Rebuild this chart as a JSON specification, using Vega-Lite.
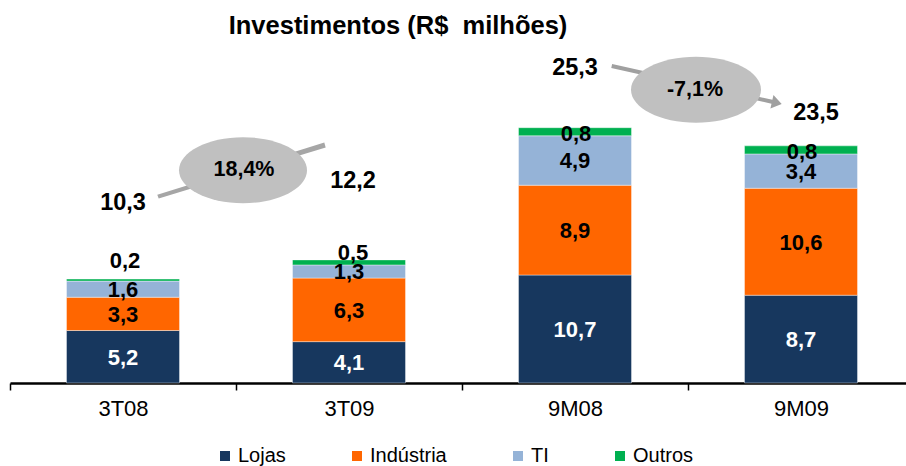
{
  "$schema": "https://vega.github.io/schema/vega-lite/v6.json",
  "width": 896,
  "height": 333,
  "autosize": {"type": "none"},
  "padding": {"left": 10, "top": 50, "right": 0, "bottom": 83},
  "background": "white",
  "title": {
    "text": "Investimentos (R$\u00a0 milhões)",
    "fontSize": 25.5,
    "fontWeight": "bold",
    "font": "Liberation Sans",
    "color": "black",
    "anchor": "middle",
    "frame": "group",
    "dx": -60,
    "offset": 11
  },
  "config": {
    "view": {"stroke": null},
    "font": "Liberation Sans",
    "locale": {"number": {"decimal": ",", "thousands": ".", "grouping": [3], "currency": ["R$ ", ""]}}
  },
  "datasets": {
    "investimentos": [
      {"periodo": "3T08", "categoria": "Lojas", "ordem": 1, "valor": 5.2},
      {"periodo": "3T08", "categoria": "Indústria", "ordem": 2, "valor": 3.3},
      {"periodo": "3T08", "categoria": "TI", "ordem": 3, "valor": 1.6},
      {"periodo": "3T08", "categoria": "Outros", "ordem": 4, "valor": 0.2},
      {"periodo": "3T09", "categoria": "Lojas", "ordem": 1, "valor": 4.1},
      {"periodo": "3T09", "categoria": "Indústria", "ordem": 2, "valor": 6.3},
      {"periodo": "3T09", "categoria": "TI", "ordem": 3, "valor": 1.3},
      {"periodo": "3T09", "categoria": "Outros", "ordem": 4, "valor": 0.5},
      {"periodo": "9M08", "categoria": "Lojas", "ordem": 1, "valor": 10.7},
      {"periodo": "9M08", "categoria": "Indústria", "ordem": 2, "valor": 8.9},
      {"periodo": "9M08", "categoria": "TI", "ordem": 3, "valor": 4.9},
      {"periodo": "9M08", "categoria": "Outros", "ordem": 4, "valor": 0.8},
      {"periodo": "9M09", "categoria": "Lojas", "ordem": 1, "valor": 8.7},
      {"periodo": "9M09", "categoria": "Indústria", "ordem": 2, "valor": 10.6},
      {"periodo": "9M09", "categoria": "TI", "ordem": 3, "valor": 3.4},
      {"periodo": "9M09", "categoria": "Outros", "ordem": 4, "valor": 0.8}
    ],
    "variacoes": [
      {"periodo": "3T09", "texto": "18,4%"},
      {"periodo": "9M09", "texto": "-7,1%"}
    ]
  },
  "data": {"name": "investimentos"},
  "encoding": {
    "x": {
      "field": "periodo",
      "type": "nominal",
      "scale": {"domain": ["3T08", "3T09", "9M08", "9M09"], "range": [0, 904], "paddingInner": 0, "paddingOuter": 0},
      "axis": {
        "title": null,
        "labelFontSize": 22,
        "labelFont": "Liberation Sans",
        "labelColor": "black",
        "labelAngle": 0,
        "labelPadding": 8,
        "tickOffset": -113,
        "labelOffset": 113,
        "tickSize": 7,
        "tickColor": "black",
        "tickWidth": 1.5,
        "domainColor": "black",
        "domainWidth": 2.5
      }
    }
  },
  "layer": [
    {
      "mark": {"type": "bar", "width": {"band": 0.5}, "stroke": "white", "strokeWidth": 0.4},
      "encoding": {
        "y": {"field": "valor", "type": "quantitative", "stack": "zero", "scale": {"domain": [0, 33], "nice": false}, "axis": null},
        "color": {
          "field": "categoria",
          "type": "nominal",
          "scale": {"domain": ["Lojas", "Indústria", "TI", "Outros"], "range": ["#17375E", "#FF6600", "#95B3D7", "#00B050"]},
          "legend": {
            "title": null,
            "orient": "none",
            "legendX": 205,
            "legendY": 396,
            "direction": "horizontal",
            "symbolType": "square",
            "symbolSize": 100,
            "symbolStrokeWidth": 0,
            "symbolOpacity": 1,
            "labelFontSize": 20,
            "labelFont": "Liberation Sans",
            "labelColor": "black",
            "columnPadding": 61,
            "labelOffset": 3,
            "padding": 0
          }
        },
        "order": {"field": "ordem", "type": "quantitative"}
      }
    },
    {
      "transform": [{"filter": "datum.categoria !== 'Outros'"}],
      "mark": {"type": "text", "fontSize": 22, "fontWeight": "bold", "baseline": "middle", "dy": 1},
      "encoding": {
        "y": {"field": "valor", "type": "quantitative", "stack": "zero", "bandPosition": 0.5, "axis": null},
        "detail": {"field": "categoria"},
        "order": {"field": "ordem", "type": "quantitative"},
        "text": {"field": "valor", "type": "quantitative", "format": ".1f"},
        "color": {"condition": {"test": "datum.categoria === 'Lojas'", "value": "white"}, "value": "black"}
      }
    },
    {
      "transform": [
        {"joinaggregate": [{"op": "sum", "field": "valor", "as": "total"}], "groupby": ["periodo"]},
        {"filter": "datum.categoria === 'Outros' && datum.periodo === '3T08'"}
      ],
      "mark": {"type": "text", "fontSize": 22, "fontWeight": "bold", "baseline": "middle", "dy": -18.5, "dx": 2, "color": "black"},
      "encoding": {
        "y": {"field": "total", "type": "quantitative", "axis": null},
        "text": {"field": "valor", "type": "quantitative", "format": ".1f"}
      }
    },
    {
      "transform": [
        {"joinaggregate": [{"op": "sum", "field": "valor", "as": "total"}], "groupby": ["periodo"]},
        {"filter": "datum.categoria === 'Outros' && datum.periodo === '3T09'"}
      ],
      "mark": {"type": "text", "fontSize": 22, "fontWeight": "bold", "baseline": "middle", "dy": -7, "dx": 4, "color": "black"},
      "encoding": {
        "y": {"field": "total", "type": "quantitative", "axis": null},
        "text": {"field": "valor", "type": "quantitative", "format": ".1f"}
      }
    },
    {
      "transform": [
        {"joinaggregate": [{"op": "sum", "field": "valor", "as": "total"}], "groupby": ["periodo"]},
        {"filter": "datum.categoria === 'Outros' && (datum.periodo === '9M08' || datum.periodo === '9M09')"}
      ],
      "mark": {"type": "text", "fontSize": 22, "fontWeight": "bold", "baseline": "middle", "dy": 6, "dx": 1, "color": "black"},
      "encoding": {
        "y": {"field": "total", "type": "quantitative", "axis": null},
        "text": {"field": "valor", "type": "quantitative", "format": ".1f"}
      }
    },
    {
      "transform": [
        {"aggregate": [{"op": "sum", "field": "valor", "as": "total"}], "groupby": ["periodo"]},
        {"filter": "datum.periodo === '3T08'"}
      ],
      "mark": {"type": "text", "fontSize": 23.5, "fontWeight": "bold", "baseline": "middle", "dy": -76, "dx": 0, "color": "black"},
      "encoding": {
        "y": {"field": "total", "type": "quantitative", "axis": null},
        "text": {"field": "total", "type": "quantitative", "format": ".1f"}
      }
    },
    {
      "transform": [
        {"aggregate": [{"op": "sum", "field": "valor", "as": "total"}], "groupby": ["periodo"]},
        {"filter": "datum.periodo === '3T09'"}
      ],
      "mark": {"type": "text", "fontSize": 23.5, "fontWeight": "bold", "baseline": "middle", "dy": -79, "dx": 4, "color": "black"},
      "encoding": {
        "y": {"field": "total", "type": "quantitative", "axis": null},
        "text": {"field": "total", "type": "quantitative", "format": ".1f"}
      }
    },
    {
      "transform": [
        {"aggregate": [{"op": "sum", "field": "valor", "as": "total"}], "groupby": ["periodo"]},
        {"filter": "datum.periodo === '9M08'"}
      ],
      "mark": {"type": "text", "fontSize": 23.5, "fontWeight": "bold", "baseline": "middle", "dy": -60, "dx": 0, "color": "black"},
      "encoding": {
        "y": {"field": "total", "type": "quantitative", "axis": null},
        "text": {"field": "total", "type": "quantitative", "format": ".1f"}
      }
    },
    {
      "transform": [
        {"aggregate": [{"op": "sum", "field": "valor", "as": "total"}], "groupby": ["periodo"]},
        {"filter": "datum.periodo === '9M09'"}
      ],
      "mark": {"type": "text", "fontSize": 23.5, "fontWeight": "bold", "baseline": "middle", "dy": -33, "dx": 15, "color": "black"},
      "encoding": {
        "y": {"field": "total", "type": "quantitative", "axis": null},
        "text": {"field": "total", "type": "quantitative", "format": ".1f"}
      }
    },
    {
      "data": {"name": "variacoes"},
      "transform": [{"filter": "datum.periodo === '3T09'"}],
      "layer": [
        {
          "mark": {"type": "point", "shape": "M -78.7 24.6 L 88.3 -27.6 L 89.7 -22.8 L -77.3 28.4 Z", "size": 4, "filled": true, "color": "#A6A6A6", "opacity": 1, "strokeWidth": 0}
        },
        {
          "mark": {"type": "point", "shape": "M -57 0 A 64 33 0 1 0 71 0 A 64 33 0 1 0 -57 0 Z", "size": 4, "filled": true, "color": "#C0C0C0", "opacity": 1, "strokeWidth": 0}
        },
        {
          "mark": {"type": "text", "fontSize": 21.5, "fontWeight": "bold", "baseline": "middle", "dx": 8, "color": "black"},
          "encoding": {"text": {"field": "texto", "type": "nominal"}}
        }
      ],
      "encoding": {
        "x": {"field": "periodo", "type": "nominal", "bandPosition": 0},
        "y": {"datum": 21.09, "type": "quantitative", "axis": null}
      }
    },
    {
      "data": {"name": "variacoes"},
      "transform": [{"filter": "datum.periodo === '9M09'"}],
      "layer": [
        {
          "mark": {"type": "point", "shape": "M -75.86 -25.65 L 84.38 10.17 L 85.47 5.29 L 93.7 14.3 L 82.41 18.95 L 83.5 14.07 L -76.74 -21.75 Z", "size": 4, "filled": true, "color": "#A0A0A0", "opacity": 1, "strokeWidth": 0}
        },
        {
          "mark": {"type": "point", "shape": "M -57 0 A 65 33 0 1 0 73 0 A 65 33 0 1 0 -57 0 Z", "size": 4, "filled": true, "color": "#C0C0C0", "opacity": 1, "strokeWidth": 0}
        },
        {
          "mark": {"type": "text", "fontSize": 21.5, "fontWeight": "bold", "baseline": "middle", "dx": 7, "color": "black"},
          "encoding": {"text": {"field": "texto", "type": "nominal"}}
        }
      ],
      "encoding": {
        "x": {"field": "periodo", "type": "nominal", "bandPosition": 0},
        "y": {"datum": 29.07, "type": "quantitative", "axis": null}
      }
    }
  ]
}
